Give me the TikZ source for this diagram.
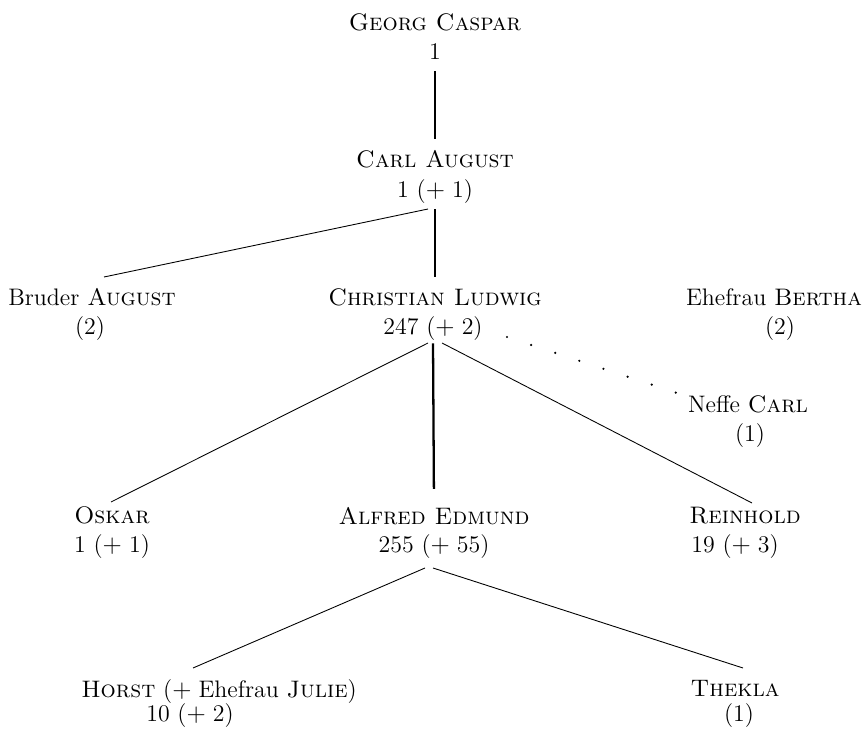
\documentclass[tikz,border=0pt]{standalone}
\usepackage{fontspec}
\usepackage{tikz}
\usetikzlibrary{calc}
\newcommand{\plusgap}{${+}\;$}
\tikzset{%
	person/.style = {anchor=base, inner sep=0pt, text height=10.2pt, text depth=3.4pt, font=\fontsize{13.6}{16}\selectfont},
	stem/.style   = {line width=1.3pt, shorten <=2.8pt, shorten >=6pt},
	link/.style   = {line width=0.5pt},
	kin/.style    = {line width=1.4pt, line cap=round, dash pattern=on 0pt off 14.45pt},
}
\begin{document}
\begin{tikzpicture}[x=0.02cm,y=-0.02cm]
	\useasboundingbox (0,0) rectangle (865,729);
	\node[person] (georg) at (435,31) {\textsc{Georg Caspar}};
	\node[person] (georg-c) at (435,60) {1};
	\node[person] (carl) at (435,168) {\textsc{Carl August}};
	\node[person] (carl-c) at (435,198) {1 (\plusgap1)};
	\node[person] (bruder) at (92,306) {Bruder \textsc{August}};
	\node[person] (bruder-c) at (90,335) {(2)};
	\node[person] (chr) at (435,306) {\textsc{Christian Ludwig}};
	\node[person] (chr-c) at (433,335) {247 (\plusgap2)};
	\node[person] (bertha) at (774,306) {Ehefrau \textsc{Bertha}};
	\node[person] (bertha-c) at (780,335) {(2)};
	\node[person] (neffe) at (748,412) {Neffe \textsc{Carl}};
	\node[person] (neffe-c) at (750,441) {(1)};
	\node[person] (oskar) at (112,523) {\textsc{Oskar}};
	\node[person] (oskar-c) at (112,552) {1 (\plusgap1)};
	\node[person] (alfred) at (434,524) {\textsc{Alfred Edmund}};
	\node[person] (alfred-c) at (434,552) {255 (\plusgap55)};
	\node[person] (reinhold) at (745,523) {\textsc{Reinhold}};
	\node[person] (reinhold-c) at (735,552) {19 (\plusgap3)};
	\node[person] (horst) at (219,697) {\textsc{Horst} (\plusgap Ehefrau \textsc{Julie})};
	\node[person] (horst-c) at (190,721) {10 (\plusgap2)};
	\node[person] (thekla) at (735,696) {\textsc{Thekla}};
	\node[person] (thekla-c) at (739,721) {(1)};

	\draw[stem] (georg-c.south) -- (carl.north);
	\draw[stem] (carl-c.south) -- (chr.north);
	\draw[stem,shorten <=1.1pt,shorten >=9.6pt] (chr-c.south) -- (alfred.north);
	\draw[link] ($(carl-c.base)+(-7,11)$) -- ($(bruder.base)+(12,-29)$);
	\draw[link] ($(chr-c.base)+(-5,8)$) -- ($(oskar.base)+(-1,-21)$);
	\draw[link] ($(chr-c.base)+(9,8)$) -- ($(reinhold.base)+(7,-20)$);
	\draw[link] ($(alfred-c.base)+(-9,16)$) -- ($(horst.base)+(-26,-29)$);
	\draw[link] ($(alfred-c.base)+(-1,16)$) -- ($(thekla.base)+(8,-28)$);
	\draw[kin] ($(chr-c.base)+(74,2)$) -- ($(neffe.base)+(-71,-19)$);
\end{tikzpicture}
\end{document}
